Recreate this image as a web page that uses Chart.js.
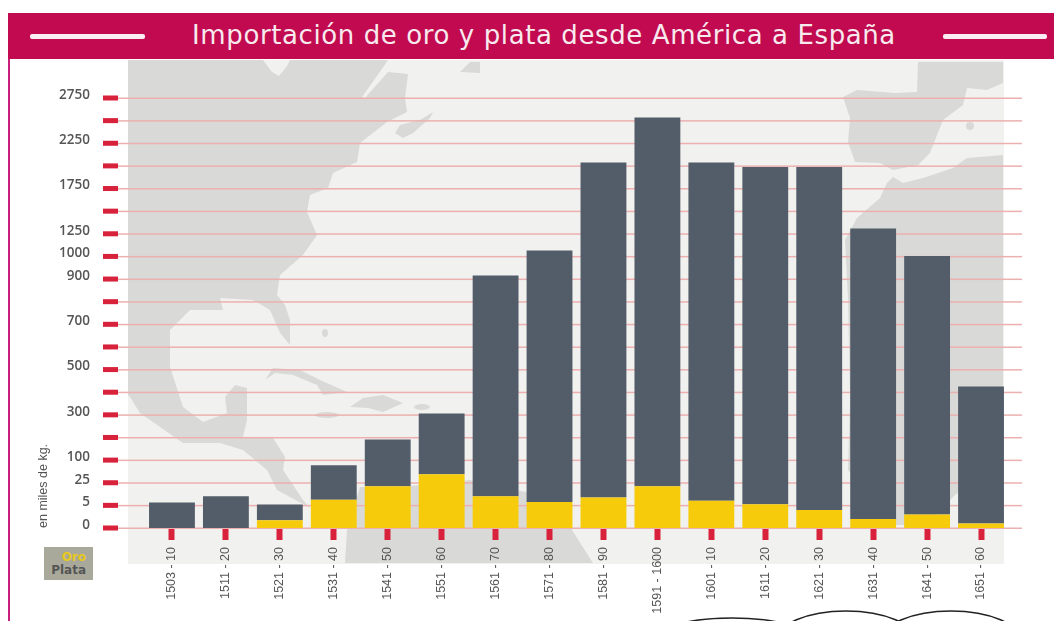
<!DOCTYPE html>
<html lang="es">
<head>
<meta charset="utf-8">
<title>Importación de oro y plata desde América a España</title>
<script src="https://cdn.jsdelivr.net/npm/chart.js@4/dist/chart.umd.min.js"></script>
<style>
    html, body { margin: 0; padding: 0; background: #fff; overflow: hidden; }
    #lienzo { position: relative; width: 1054px; height: 621px; overflow: hidden; }
    #mapa, #grafico { position: absolute; left: 0; top: 0; }
    #borde { position: absolute; left: 8px; top: 13px; width: 2px; height: 608px; background: #c8207c; }
    #banda { position: absolute; left: 8px; top: 13px; width: 1046px; height: 46px; background: #c10a4f; }
    #titulo { position: absolute; left: 177px; top: 4px; width: 718px; text-align: center; color: #f7e9ee;
              font: 26px "DejaVu Sans", sans-serif; letter-spacing: 0.6px; line-height: 36px; white-space: nowrap; }
    .raya { position: absolute; top: 21px; height: 5px; background: #fbeef2; border-radius: 2px; }
    #leyenda { position: absolute; left: 44px; top: 547px; width: 49px; height: 33px; background: #a9a99b;
               font: bold 12px "DejaVu Sans", sans-serif; line-height: 13px; text-align: right; }
    #leyenda div { padding-right: 7px; }
</style>
</head>
<body>
<div id="lienzo">
    <svg id="mapa" width="1054" height="621">
        <rect x="128" y="60" width="876" height="504" fill="#f1f1ef"/>
        <g fill="#d9d9d7">
            <!-- Norteamérica y Centroamérica -->
            <polygon points="128,60 263,60 272,72 279,76 287,66 290,60 388,60 384,66 362,97 365,98 388,72 408,74 405,98 407,112 387,122 360,143 357,162 333,173 328,188 310,195 307,212 317,235 303,255 280,275 277,295 285,305 290,320 290,345 280,333 270,310 253,300 220,298 223,310 190,310 170,330 170,367 183,407 203,422 227,413 225,397 235,385 247,388 247,420 243,437 273,438 285,457 283,470 303,500 310,508 290,497 277,490 267,470 243,450 220,443 183,443 140,413 130,397 128,395"/>
            <polygon points="395,133 400,125 420,120 433,112 430,118 413,133 403,138"/>
            <polygon points="460,72 470,62 480,62 480,73"/>
            <!-- Antillas -->
            <polygon points="265,380 273,368 300,370 320,380 347,392 323,395 317,385 293,375 275,373"/>
            <polygon points="350,407 363,398 383,395 403,403 383,412 368,408"/>
            <ellipse cx="422" cy="407" rx="8" ry="3"/>
            <ellipse cx="327" cy="415" rx="12" ry="3"/>
            <ellipse cx="325" cy="333" rx="3" ry="4"/>
            <!-- Sudamérica -->
            <polygon points="347,530 345,563 593,563 572,530 570,520 540,495 470,480 400,487 360,487"/>
            <!-- Península ibérica, Francia y Baleares -->
            <polygon points="918,62 1003,62 1003,83 987,90 967,88 963,105 943,120 937,135 930,153 918,165 893,170 880,163 855,162 848,142 850,118 843,97 857,90 895,93 917,92"/>
            <circle cx="970" cy="126" r="4"/>
            <!-- África -->
            <polygon points="1003,155 967,158 953,168 923,178 903,183 893,177 887,183 880,198 857,218 845,240 848,300 850,400 848,470 895,525 925,525 955,495 1003,460"/>
        </g>
        <g fill="none" stroke="#222" stroke-width="1.5">
            <ellipse cx="732" cy="648" rx="90" ry="30"/>
            <ellipse cx="846" cy="641" rx="70" ry="30"/>
            <ellipse cx="951" cy="641" rx="70" ry="30"/>
        </g>
    </svg>
    <canvas id="grafico" width="1054" height="621"></canvas>
    <div id="borde"></div>
    <div id="banda">
        <div class="raya" style="left:22px;width:115px"></div>
        <div id="titulo">Importación de oro y plata desde América a España</div>
        <div class="raya" style="left:935px;width:104px"></div>
    </div>
    <div id="leyenda"></div>
</div>

<script>
// Datos del gráfico (miles de kg)
const periodos = ['1503 - 10', '1511 - 20', '1521 - 30', '1531 - 40', '1541 - 50', '1551 - 60', '1561 - 70', '1571 - 80',
    '1581 - 90', '1591 - 1600', '1601 - 10', '1611 - 20', '1621 - 30', '1631 - 40', '1641 - 50', '1651 - 60'];
const oro = [0, 0, 1.7, 10, 22, 53, 13, 8, 12, 22, 9, 6, 4, 2, 3, 1];
const plata = [7.5, 13, 4, 73, 169, 253, 903, 1057, 2025, 2513, 2028, 1982, 1984, 1306, 1002, 424];

// La escala del original no es uniforme: cada marca ocupa lo mismo
const marcas = [0, 5, 25, 100, 200, 300, 400, 500, 600, 700, 800, 900, 1000, 1250, 1500, 1750, 2000, 2250, 2500, 2750];
const etiquetasY = [0, 5, 25, 100, 300, 500, 700, 900, 1000, 1250, 1750, 2250, 2750];

// Escala por tramos entre las marcas
class EscalaTramos extends Chart.LinearScale {
    buildTicks() {
        return marcas.map(v => ({ value: v }));
    }
    getPixelForValue(value) {
        let i = 0;
        while (i < marcas.length - 2 && value > marcas[i + 1]) i++;
        const t = (value - marcas[i]) / (marcas[i + 1] - marcas[i]);
        return this.getPixelForDecimal((i + t) / (marcas.length - 1));
    }
}
EscalaTramos.id = 'tramos';
EscalaTramos.defaults = {};
Chart.register(EscalaTramos);

// Líneas guía y marcas rojas del eje vertical
const guias = {
    id: 'guias',
    beforeDatasetsDraw(chart) {
        const ctx = chart.ctx;
        const y = chart.scales.y;
        ctx.save();
        y.ticks.forEach(tick => {
            const py = y.getPixelForValue(tick.value);
            ctx.fillStyle = '#ecb0b0';
            ctx.fillRect(118, py - 0.5, 904, 1.5);
            ctx.fillStyle = '#d8213b';
            ctx.fillRect(103, py - 2.5, 15, 5);
        });
        ctx.restore();
    }
};

const ctx = document.getElementById('grafico').getContext('2d');
const grafico = new Chart(ctx, {
    type: 'bar',
    data: {
        labels: periodos,
        datasets: [
            { label: 'Oro', data: oro, backgroundColor: '#f5cb0c' },
            { label: 'Plata', data: plata, backgroundColor: '#535d69' }
        ]
    },
    plugins: [guias],
    options: {
        responsive: false,
        animation: false,
        layout: { padding: { left: 36, right: 46, top: 98, bottom: 0 } },
        datasets: { bar: { barPercentage: 0.85, categoryPercentage: 1 } },
        plugins: { legend: { display: false }, title: { display: false }, tooltip: { enabled: false } },
        scales: {
            x: {
                stacked: true,
                border: { display: false },
                grid: { offset: false, drawOnChartArea: false, tickColor: '#d8213b', tickWidth: 6, tickLength: 12 },
                ticks: {
                    minRotation: 90, maxRotation: 90, autoSkip: false, padding: 7,
                    color: '#555', font: { family: '"Liberation Sans"', size: 12.5 }
                },
                afterFit: s => { s.height = 93; }
            },
            y: {
                type: 'tramos',
                stacked: true,
                min: 0,
                max: 2750,
                border: { display: false },
                grid: { display: false, drawTicks: false },
                ticks: {
                    autoSkip: false, padding: 55, color: '#555', labelOffset: -3,
                    font: { family: '"Open Sans"', size: 13.5, weight: '600' },
                    callback: v => etiquetasY.includes(v) ? String(v) : ''
                },
                title: {
                    display: true, text: 'en miles de kg.', align: 'start', color: '#555', padding: 0,
                    font: { family: '"Liberation Sans"', size: 12.5 }
                },
                afterFit: s => { s.width = 109; }
            }
        }
    }
});

// Leyenda a partir de las series
const coloresLeyenda = ['#e8c820', '#555'];
grafico.data.datasets.forEach((serie, i) => {
    const fila = document.createElement('div');
    fila.textContent = serie.label;
    fila.style.color = coloresLeyenda[i];
    fila.style.marginTop = i === 0 ? '4px' : '0';
    document.getElementById('leyenda').appendChild(fila);
});
</script>
</body>
</html>
